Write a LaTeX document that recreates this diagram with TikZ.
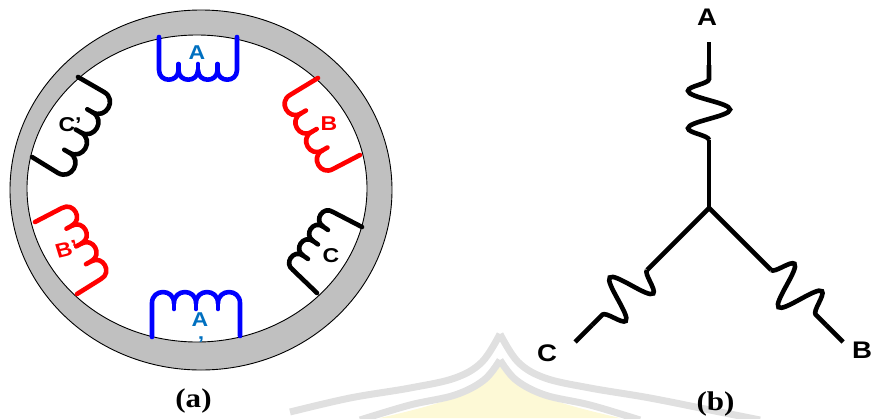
\documentclass[tikz,border=0pt]{standalone}
\usepackage{fontspec}
\setmainfont{Liberation Serif}
\setsansfont{Liberation Sans}
\usetikzlibrary{calc,decorations.pathmorphing}

\definecolor{ringgray}{RGB}{192,192,192}
\definecolor{coilblue}{RGB}{0,0,255}
\definecolor{coilred}{RGB}{255,0,0}
\definecolor{labelblue}{RGB}{0,112,192}
\definecolor{wmgray}{RGB}{224,224,224}
\definecolor{wmyellow}{RGB}{253,249,214}

% One stator coil: lead from the ring (#2) to (#3), four loops from (#3) to (#4),
% lead back to the ring at (#5); loops bulge to the right of (#3)->(#4).
\newcommand\statorcoil[5]{%
  \path (#3) coordinate (k0)
        ($(#3)!0.25!(#4)$) coordinate (k1)
        ($(#3)!0.5!(#4)$)  coordinate (k2)
        ($(#3)!0.75!(#4)$) coordinate (k3)
        (#4) coordinate (k4);
  \draw[coilline,#1] (#2) -- (k0)
     to[loop arc] (k1) to[loop arc] (k2) to[loop arc] (k3) to[loop arc] (k4)
     -- (#5);
  \foreach \k/\n in {k1/k2,k2/k3,k3/k4}
    \draw[coilline,#1] (\k) -- ($(\k)!6pt!90:(\n)$);
}

\tikzset{
  coilline/.style={line width=4.6pt, line cap=round, line join=round},
  loop arc/.style={bend right=90, looseness=1.7},
  coillabel/.style={font=\sffamily\bfseries\fontsize{20}{20}\selectfont, inner sep=0pt, xscale=1.15},
  starlabel/.style={font=\sffamily\bfseries\fontsize{24}{24}\selectfont, inner sep=0pt, xscale=1.15},
  caption/.style={font=\rmfamily\bfseries\fontsize{27}{27}\selectfont, inner sep=0pt, xscale=1.15},
  starline/.style={line width=4.6pt},
  winding/.style={starline, decorate,
    decoration={snake, amplitude=21pt, segment length=#1, pre length=0pt, post length=0pt}},
}

\begin{document}
\begin{tikzpicture}[x=1pt, y=-1pt]
\useasboundingbox (0,0) rectangle (873,418);

% faint background emblem
\fill[wmyellow] (380,418) .. controls (440,404) and (485,392) .. (500,366)
                .. controls (515,392) and (560,404) .. (620,418) -- cycle;
\draw[wmgray, line width=7pt] plot[smooth, tension=0.6] coordinates
  {(290,412) (350,398) (410,388) (455,378) (482,362) (500,334)};
\draw[wmgray, line width=7pt] plot[smooth, tension=0.6] coordinates
  {(500,334) (518,362) (545,378) (590,388) (650,398) (720,412) (760,420)};
\draw[wmgray, line width=7pt] plot[smooth, tension=0.6] coordinates
  {(360,420) (410,405) (455,395) (484,380) (500,360)};
\draw[wmgray, line width=7pt] plot[smooth, tension=0.6] coordinates
  {(500,360) (516,380) (545,395) (590,405) (640,420)};

% ---------------- (a) stator ring with six coils ----------------
\fill[ringgray, even odd rule]
  (201,190) ellipse [x radius=191pt, y radius=180pt]
  (197,188.5) ellipse [x radius=170pt, y radius=153.5pt];
\draw[line width=0.9pt] (201,190) ellipse [x radius=191pt, y radius=180pt];
\draw[line width=0.9pt] (197,188.5) ellipse [x radius=170pt, y radius=153.5pt];

% coil end points: ring, loop start, loop end, ring
\coordinate (Ap1) at (159,37);  \coordinate (As1) at (159,70);
\coordinate (As2) at (237,70);  \coordinate (Ap2) at (237,37);
\coordinate (Bp1) at (318,78);  \coordinate (Bs1) at (290,95);
\coordinate (Bs2) at (333,169); \coordinate (Bp2) at (360,155);
\coordinate (Cp1) at (362,227); \coordinate (Cs1) at (333,212);
\coordinate (Cs2) at (293,270); \coordinate (Cp2) at (317,293);
\coordinate (Dp1) at (240,336); \coordinate (Ds1) at (240,303);
\coordinate (Ds2) at (152,303); \coordinate (Dp2) at (152,337);
\coordinate (Ep1) at (77,294);  \coordinate (Es1) at (101,279);
\coordinate (Es2) at (62,208);  \coordinate (Ep2) at (35,222);
\coordinate (Fp1) at (32,157);  \coordinate (Fs1) at (58,173);
\coordinate (Fs2) at (104,92);  \coordinate (Fp2) at (78,77);

\statorcoil{coilblue}{Ap1}{As1}{As2}{Ap2}
\statorcoil{coilred}{Bp1}{Bs1}{Bs2}{Bp2}
\statorcoil{black}{Cp1}{Cs1}{Cs2}{Cp2}
\statorcoil{coilblue}{Dp1}{Ds1}{Ds2}{Dp2}
\statorcoil{coilred}{Ep1}{Es1}{Es2}{Ep2}
\statorcoil{black}{Fp1}{Fs1}{Fs2}{Fp2}

\node[coillabel, text=labelblue] (labA) at (197,53) {A};
\node[coillabel, text=coilred]   (labB) at (329,124) {B};
\node[coillabel]                 (labC) at (331,256) {C};
\node[coillabel, text=labelblue] (labAp) at (200,320) {A};
\node[coillabel, text=labelblue] (labApq) at (201,344) {’};
\node[coillabel, text=coilred, rotate=15] (labBp) at (67,249) {B’};
\node[coillabel]                 (labCp) at (70,125) {C’};

\node[caption] (capa) at (193.5,401) {(a)};

% ---------------- (b) star connection ----------------
\coordinate (N)   at (709,208);
\coordinate (Aw2) at (709,140);
\coordinate (Aw1) at (709,65);
\coordinate (At)  at (709,42);
\coordinate (Cw2) at (647,270);
\coordinate (Cw1) at (592,325);
\coordinate (Ct)  at (575,342);
\coordinate (Bw2) at (771,270);
\coordinate (Bw1) at (826,325);
\coordinate (Bt)  at (843,342);

\draw[starline] (N) -- (Aw2);
\draw[winding=37.5pt] (Aw2) -- (Aw1);
\draw[starline] (Aw1) -- (At);
\draw[starline] (N) -- (Cw2);
\draw[winding=38.9pt] (Cw2) -- (Cw1);
\draw[starline] (Cw1) -- (Ct);
\draw[starline] (N) -- (Bw2);
\draw[winding=38.9pt] (Bw2) -- (Bw1);
\draw[starline] (Bw1) -- (Bt);

\node[starlabel] (lA) at (707,17) {A};
\node[starlabel] (lC) at (547,353) {C};
\node[starlabel] (lB) at (862,350) {B};

\node[caption] (capb) at (715.5,404) {(b)};
\end{tikzpicture}
\end{document}
